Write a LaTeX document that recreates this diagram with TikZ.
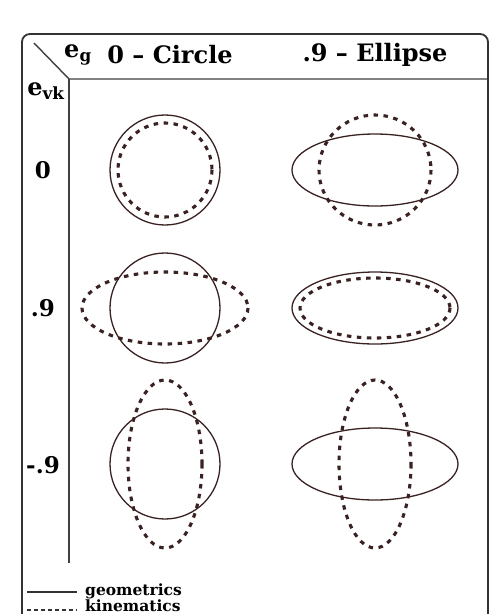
\documentclass[tikz,border=0pt]{standalone}
\usepackage{fontspec}
\setmainfont{DejaVu Serif}
\begin{document}
\begin{tikzpicture}[x=1pt,y=-1pt,
  frame/.style={draw=black!80,line width=1.8pt},
  rule/.style={draw=black!75,line width=1.4pt},
  geo/.style={draw=curvecol,line width=1.3pt},
  kin/.style={draw=curvecol,line width=3.1pt,dash pattern=on 4.5pt off 5.5pt},
  head/.style={font=\fontsize{24}{28}\selectfont\bfseries,inner sep=0pt},
  rowlab/.style={font=\fontsize{23}{28}\selectfont\bfseries,inner sep=0pt},
  leg/.style={font=\fontsize{15.5}{18}\selectfont\bfseries,inner sep=0pt,anchor=west}]
\definecolor{curvecol}{HTML}{3A2222}
\useasboundingbox (0,0) rectangle (490,614);
\fill[white] (0,0) rectangle (490,614);
\begin{scope}
\clip (0,0) rectangle (490,614);
\draw[frame,rounded corners=8pt] (22,34) rectangle (488,640);
\end{scope}
% header lines
\coordinate (dtop) at (34,43);
\coordinate (corner) at (69,79);
\coordinate (hend) at (487,79);
\coordinate (vend) at (69,563);
\draw[rule] (dtop) -- (corner) -- (hend);
\draw[rule] (corner) -- (vend);
% header texts
\node[head] (eg) at (78,55) {e\textsubscript{g}};
\node[head] (c0) at (170,55) {0 -- Circle};
\node[head] (c9) at (375,55) {.9 -- Ellipse};
\node[head] (evk) at (46,91) {e\textsubscript{vk}};
\node[rowlab] (r0) at (43,170) {0};
\node[rowlab] (r9) at (43,308) {.9};
\node[rowlab] (rm9) at (43,465) {-.9};
% row 1
\draw[geo] (165,170) circle[radius=55];
\draw[kin] (165,170) circle[radius=47];
\draw[geo] (375,170) ellipse[x radius=83,y radius=36];
\draw[kin] (375,170) ellipse[x radius=56,y radius=55];
% row 2
\draw[geo] (165,308) circle[radius=55];
\draw[kin] (165,308) ellipse[x radius=83,y radius=36];
\draw[geo] (375,308) ellipse[x radius=83,y radius=36];
\draw[kin] (375,308) ellipse[x radius=75,y radius=30];
% row 3
\draw[geo] (165,464) circle[radius=55];
\draw[kin] (165,464) ellipse[x radius=37,y radius=84];
\draw[geo] (375,464) ellipse[x radius=83,y radius=36];
\draw[kin] (375,464) ellipse[x radius=36,y radius=84];
% legend
\coordinate (l1a) at (27,592); \coordinate (l1b) at (77,592);
\coordinate (l2a) at (27,610); \coordinate (l2b) at (77,610);
\draw[draw=black!80,line width=1.4pt] (l1a) -- (l1b);
\draw[draw=black!80,line width=2.4pt,dash pattern=on 4pt off 3pt] (l2a) -- (l2b);
\node[leg] (lg) at (85,591) {geometrics};
\node[leg] (lk) at (85,606) {kinematics};
\end{tikzpicture}
\end{document}
